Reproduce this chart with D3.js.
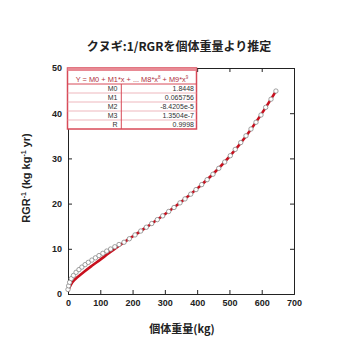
<!DOCTYPE html>
<html><head><meta charset="utf-8">
<script src="https://cdn.jsdelivr.net/npm/d3@7/dist/d3.min.js"></script>
<style>body{margin:0;background:#fff}svg{display:block}</style>
</head><body>
<script>
const titleText = "クヌギ:1/RGRを個体重量より推定";
const xTicks = [0,100,200,300,400,500,600,700];
const yTicks = [0,10,20,30,40,50];
// fitted curve (red)
const fitX = [0,5,10,20,30,50,75,100,125,150,200,250,300,350,400,450,500,550,600,645];
const fitY = [0.6,1.5,2.2,3.1,3.75,4.94,6.3,7.6,8.95,10.25,12.71,15.13,17.64,20.34,23.31,26.6,30.4,34.8,39.9,45.0];
// observed points (circles)
const ptX = [0,2,5,10,17,25,34,43,53,63,74,85,96,108,120,132,145,158,173.5,190,207.6,225.3,242.6,259.3,276.6,293.3,311.9,328.4,346.9,362.4,380.1,396.5,414.1,431,449,467,485.4,502.7,518,535,551.3,566.8,582.3,597.8,612.3,628.8,644];
const ptY = [1.0,1.8,2.6,3.4,4.1,4.8,5.4,5.95,6.5,7.0,7.5,8.0,8.5,9.0,9.5,9.95,10.45,10.95,11.45,12.22,13.07,13.93,14.77,15.59,16.45,17.29,18.26,19.14,20.16,21.04,22.09,23.1,24.2,25.3,26.5,27.8,29.2,30.6,32.0,33.5,35.0,36.5,38.0,39.6,41.3,43.1,44.9];
const legendHeader = "Y = M0 + M1*x + ... M8*x";
const paramNames = ["M0","M1","M2","M3","R"];
const paramValues = ["1.8448","0.065756","-8.4205e-5","1.3504e-7","0.9998"];

const W=341,H=341;
const svg=d3.select("body").append("svg").attr("width",W).attr("height",H);
const x=d3.scaleLinear().domain([0,700]).range([68,294]);
const y=d3.scaleLinear().domain([0,50]).range([294,68]);
const font="Liberation Sans, Arial, sans-serif";
const cjk="'Noto Sans CJK JP', sans-serif";

// title
svg.append("text").attr("x",179).attr("y",51).attr("text-anchor","middle")
  .attr("font-family",cjk).attr("font-weight","bold").attr("font-size",12).attr("fill","#222")
  .text(titleText);

// axes (inside ticks, mirrored)
const tl=4;
const gB=svg.append("g").attr("transform","translate(0,294)").call(d3.axisBottom(x).tickValues(xTicks).tickSize(-tl).tickPadding(6));
const gT=svg.append("g").attr("transform","translate(0,68)").call(d3.axisTop(x).tickValues(xTicks).tickSize(-tl).tickFormat(""));
const gL=svg.append("g").attr("transform","translate(68,0)").call(d3.axisLeft(y).tickValues(yTicks).tickSize(-tl).tickPadding(6));
const gR=svg.append("g").attr("transform","translate(294,0)").call(d3.axisRight(y).tickValues(yTicks).tickSize(-tl).tickFormat(""));
[gB,gT,gL,gR].forEach(g=>{
  g.select(".domain").attr("stroke","#222").attr("stroke-width",1);
  g.selectAll(".tick line").attr("stroke","#222");
  g.selectAll("text").attr("font-family",font).attr("font-weight","bold").attr("font-size",9).attr("fill","#222");
});

// red fitted line
const line=d3.line().x((d,i)=>x(fitX[i])).y((d,i)=>y(fitY[i])).curve(d3.curveMonotoneX);
svg.append("path").datum(fitX).attr("d",line).attr("fill","none").attr("stroke","#c8101e").attr("stroke-width",2.6);

// circles
svg.append("g").selectAll("circle").data(ptX).join("circle")
  .attr("cx",(d,i)=>x(ptX[i])).attr("cy",(d,i)=>y(ptY[i])).attr("r",2.2)
  .attr("fill","#fff").attr("stroke","#888").attr("stroke-width",0.8);

// legend table
const lx=67.5,ly=68,lw=129,lh=61;
const lg=svg.append("g");
lg.append("rect").attr("x",lx).attr("y",ly).attr("width",lw).attr("height",lh).attr("fill","#fff").attr("stroke","#d84a58").attr("stroke-width",1.5);
lg.append("rect").attr("x",lx).attr("y",ly).attr("width",lw).attr("height",3).attr("fill","#e88a94");
const hdr=lg.append("text").attr("x",lx+lw/2).attr("y",ly+13.5).attr("text-anchor","middle")
  .attr("font-family",font).attr("font-size",7.4).attr("fill","#b03040");
hdr.append("tspan").text(legendHeader);
hdr.append("tspan").attr("dy",-3).attr("font-size",4.5).text("8");
hdr.append("tspan").attr("dy",3).text(" + M9*x");
hdr.append("tspan").attr("dy",-3).attr("font-size",4.5).text("9");
const rowTop=84, rowH=(129-84)/5;
lg.append("line").attr("x1",lx).attr("x2",lx+lw).attr("y1",rowTop).attr("y2",rowTop).attr("stroke","#d84a58").attr("stroke-width",1);
for(let i=1;i<5;i++){
  lg.append("line").attr("x1",lx).attr("x2",lx+lw).attr("y1",rowTop+i*rowH).attr("y2",rowTop+i*rowH).attr("stroke","#eaa4ac").attr("stroke-width",0.8);
}
lg.append("line").attr("x1",121.3).attr("x2",121.3).attr("y1",rowTop).attr("y2",ly+lh).attr("stroke","#d84a58").attr("stroke-width",1);
paramNames.forEach((n,i)=>{
  lg.append("text").attr("x",117.5).attr("y",rowTop+i*rowH+rowH/2+2.5).attr("text-anchor","end")
    .attr("font-family",font).attr("font-size",7).attr("fill","#333").text(n);
  lg.append("text").attr("x",194).attr("y",rowTop+i*rowH+rowH/2+2.5).attr("text-anchor","end")
    .attr("font-family",font).attr("font-size",7).attr("fill","#333").text(paramValues[i]);
});

// axis titles
svg.append("text").attr("x",182).attr("y",333).attr("text-anchor","middle")
  .attr("font-family",cjk).attr("font-weight","bold").attr("font-size",11).attr("fill","#222").text("個体重量(kg)");
const yl=svg.append("text").attr("transform","translate(30,178) rotate(-90)").attr("text-anchor","middle")
  .attr("font-family",font).attr("font-weight","bold").attr("font-size",11).attr("fill","#222");
yl.append("tspan").text("RGR");
yl.append("tspan").attr("dy",-4).attr("font-size",7).text("-1");
yl.append("tspan").attr("dy",4).text(" (kg kg");
yl.append("tspan").attr("dy",-4).attr("font-size",7).text("-1");
yl.append("tspan").attr("dy",4).text(" yr)");
</script>
</body></html>
